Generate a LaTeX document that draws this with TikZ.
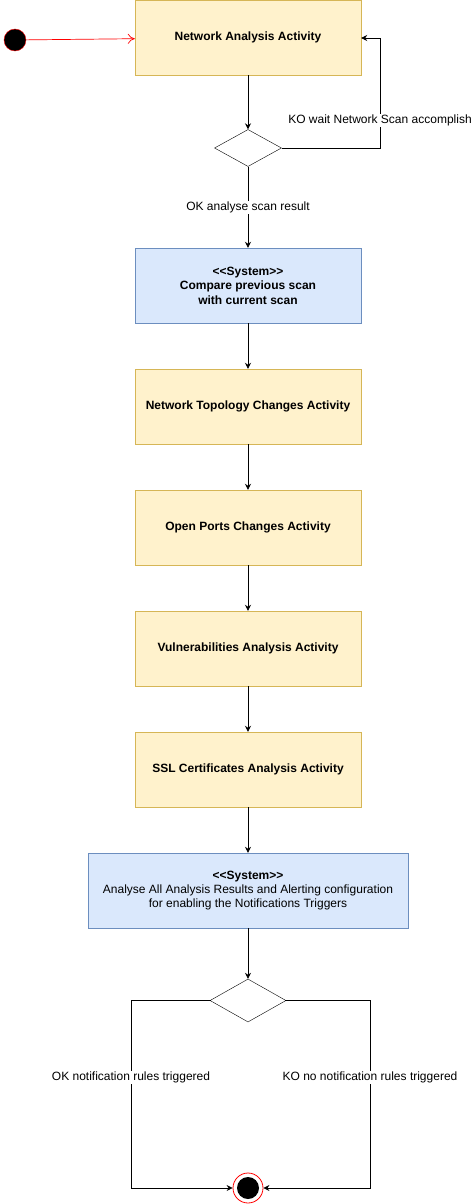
\documentclass[tikz,border=0pt]{standalone}
\usepackage{fontspec}
\setmainfont{Liberation Sans}
\usetikzlibrary{arrows.meta,shapes.geometric}
\definecolor{actfill}{HTML}{FFF2CC}
\definecolor{actdraw}{HTML}{D6B656}
\definecolor{sysfill}{HTML}{DAE8FC}
\definecolor{sysdraw}{HTML}{6C8EBF}
\newcommand{\stereo}{<\kern0pt<System>\kern0pt>}
\begin{document}
\begin{tikzpicture}[x=1pt,y=-1pt,
  every node/.style={font=\fontsize{12}{14}\selectfont},
  act/.style={draw=actdraw,fill=actfill,minimum width=226pt,minimum height=75pt,inner sep=0pt,font=\fontsize{12}{14}\selectfont\bfseries,align=center},
  sys/.style={draw=sysdraw,fill=sysfill,minimum height=75pt,inner sep=0pt,align=center},
  dec/.style={draw=black,fill=white,diamond,inner sep=0pt,aspect=1.8},
  flow/.style={draw=black,line width=0.8pt,-{Stealth[length=6pt,width=6pt,inset=2pt]}},
  lbl/.style={fill=white,inner sep=1pt,font=\fontsize{12}{14}\selectfont},
]
\useasboundingbox (0,0) rectangle (474,1204);
\node[circle,draw=red,fill=black,minimum size=22pt,inner sep=0pt] (init) at (15,40) {};
\node[act] (a1) at (248,37.5) {Network Analysis Activity};
\node[dec,minimum width=67pt,minimum height=37pt] (d1) at (248,148) {};
\node[sys,minimum width=226pt,font=\fontsize{12}{14.5}\selectfont\bfseries] (s1) at (248,285.5) {\stereo\\Compare previous scan\\with current scan};
\node[act] (a2) at (248,406.5) {Network Topology Changes Activity};
\node[act] (a3) at (248,527.5) {Open Ports Changes Activity};
\node[act] (a4) at (248,648.5) {Vulnerabilities Analysis Activity};
\node[act] (a5) at (248,769.5) {SSL Certificates Analysis Activity};
\node[sys,minimum width=320pt,font=\fontsize{12}{14}\selectfont] (s2) at (248,890.5) {\textbf{\stereo}\\Analyse All Analysis Results and Alerting configuration\\for enabling the Notifications Triggers};
\node[dec,minimum width=76pt,minimum height=43pt] (d2) at (248,1000.5) {};
\node[circle,draw=red,fill=white,minimum size=30pt,inner sep=0pt,line width=0.8pt] (fin) at (248,1188) {};
\node[circle,fill=black,minimum size=22pt,inner sep=0pt] (finin) at (248,1188) {};
\coordinate (k1) at (380,148);
\coordinate (k2) at (380,38);
\coordinate (l1) at (131,1000.5);
\coordinate (l2) at (131,1188);
\coordinate (r1) at (370,1000.5);
\coordinate (r2) at (370,1188);

\draw[draw=red,line width=0.7pt,-{To[length=7pt,width=10pt]}] (init) -- (a1);
\draw[flow] (a1) -- (d1);
\draw[flow] (d1.east) -- (k1) -- node[lbl,pos=0.25] {KO wait Network Scan accomplish} (k2) -- (a1.east |- k2);
\draw[flow] (d1) -- node[lbl] {OK analyse scan result} (s1);
\draw[flow] (s1) -- (a2);
\draw[flow] (a2) -- (a3);
\draw[flow] (a3) -- (a4);
\draw[flow] (a4) -- (a5);
\draw[flow] (a5) -- (s2);
\draw[flow] (s2) -- (d2);
\draw[flow] (d2.west) -- (l1) -- node[lbl,pos=0.41] {OK notification rules triggered} (l2) -- (fin.west);
\draw[flow] (d2.east) -- (r1) -- node[lbl,pos=0.41] {KO no notification rules triggered} (r2) -- (fin.east);
\end{tikzpicture}
\end{document}
